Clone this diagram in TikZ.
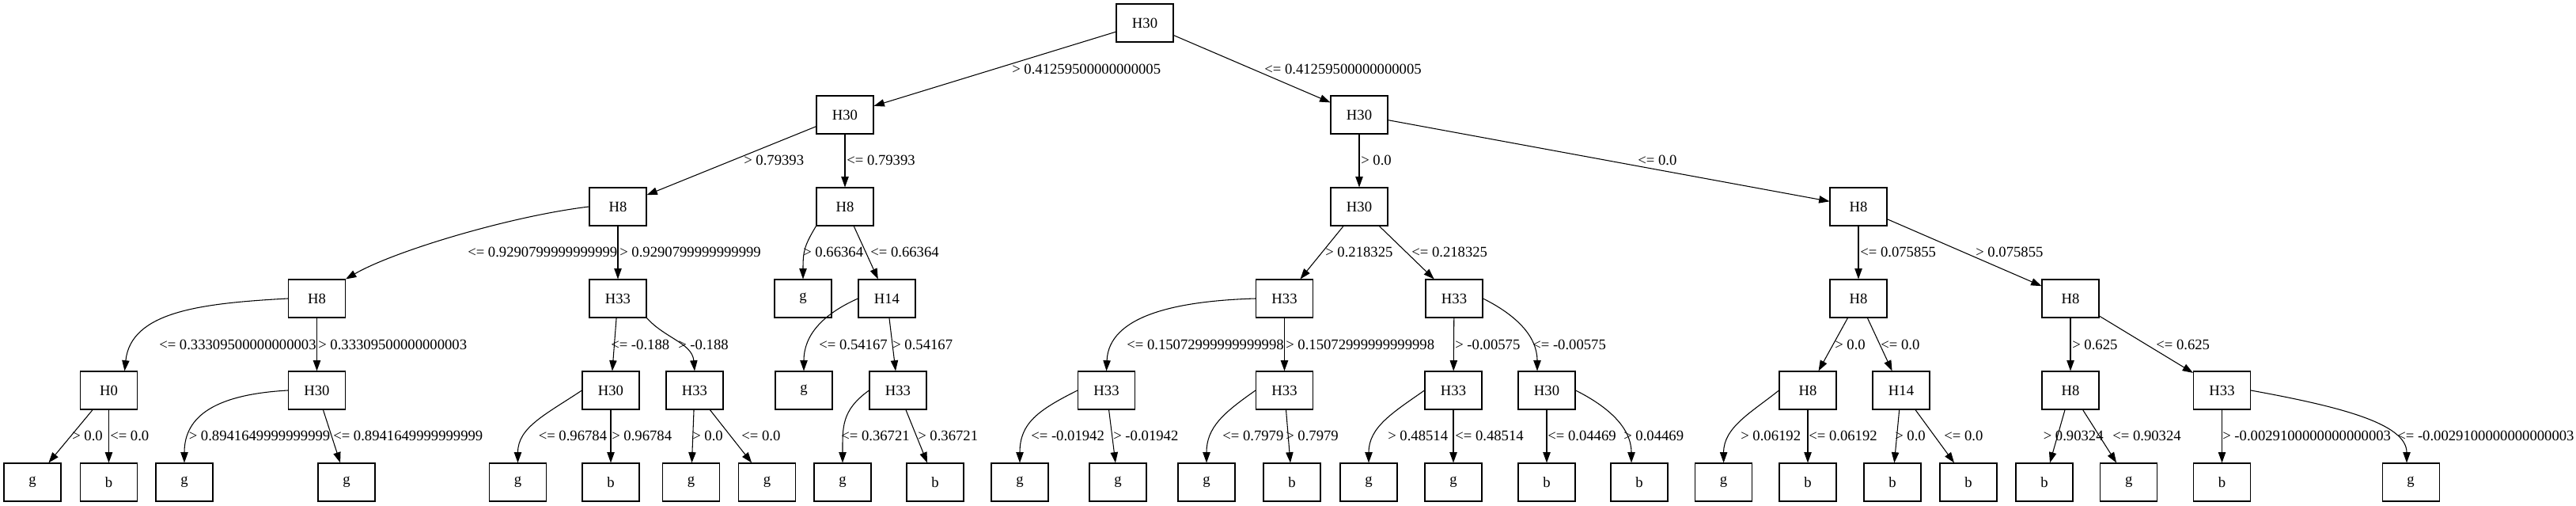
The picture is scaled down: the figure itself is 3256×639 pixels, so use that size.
\documentclass[tikz,border=0pt]{standalone}
\usepackage{fontspec}
\setmainfont{Liberation Serif}
\usetikzlibrary{arrows.meta,calc}
\begin{document}
\begin{tikzpicture}[x=0.75pt,y=-0.75pt,
  box/.style={draw, line width=0.8pt, minimum width=54pt, minimum height=36pt, inner sep=0pt, font=\fontsize{14}{16}\selectfont},
  lbl/.style={anchor=west, inner sep=0pt, font=\fontsize{14}{16}\selectfont},
  edge/.style={line width=0.8pt, -{Triangle[length=10pt,width=7pt]}}]
\useasboundingbox (0,0) rectangle (3256,639);
% row 0
\node[box] (n0) at (1447,29) {H30};
% row 1
\node[box] (n1) at (1068,145) {H30};
\node[box] (n2) at (1718,145) {H30};
% row 2
\node[box] (n3) at (781,261) {H8};
\node[box] (n4) at (1068,261) {H8};
\node[box] (n5) at (1718,261) {H30};
\node[box] (n6) at (2349,261) {H8};
% row 3
\node[box] (n7) at (400.5,377) {H8};
\node[box] (n8) at (781,377) {H33};
\node[box] (n9) at (1015,377) {g};
\node[box] (n10) at (1121,377) {H14};
\node[box] (n11) at (1623.5,377) {H33};
\node[box] (n12) at (1838,377) {H33};
\node[box] (n13) at (2349,377) {H8};
\node[box] (n14) at (2617,377) {H8};
% row 4
\node[box] (n15) at (137.5,493) {H0};
\node[box] (n16) at (400.5,493) {H30};
\node[box] (n17) at (772,493) {H30};
\node[box] (n18) at (878,493) {H33};
\node[box] (n19) at (1016,493) {g};
\node[box] (n20) at (1135,493) {H33};
\node[box] (n21) at (1398.5,493) {H33};
\node[box] (n22) at (1623.5,493) {H33};
\node[box] (n23) at (1837,493) {H33};
\node[box] (n24) at (1955,493) {H30};
\node[box] (n25) at (2285,493) {H8};
\node[box] (n26) at (2403,493) {H14};
\node[box] (n27) at (2617,493) {H8};
\node[box] (n28) at (2808.5,493) {H33};
% row 5
\node[box] (l1) at (41,609) {g};
\node[box] (l2) at (137.5,609) {b};
\node[box] (l3) at (233,609) {g};
\node[box] (l4) at (438,609) {g};
\node[box] (l5) at (654.5,609) {g};
\node[box] (l6) at (772,609) {b};
\node[box] (l7) at (873.5,609) {g};
\node[box] (l8) at (969.5,609) {g};
\node[box] (l9) at (1065,609) {g};
\node[box] (l10) at (1182,609) {b};
\node[box] (l11) at (1289,609) {g};
\node[box] (l12) at (1413,609) {g};
\node[box] (l13) at (1525,609) {g};
\node[box] (l14) at (1633,609) {b};
\node[box] (l15) at (1730,609) {g};
\node[box] (l16) at (1837,609) {g};
\node[box] (l17) at (1955,609) {b};
\node[box] (l18) at (2072,609) {b};
\node[box] (l19) at (2178.6,609) {g};
\node[box] (l20) at (2285,609) {b};
\node[box] (l21) at (2392,609) {b};
\node[box] (l22) at (2488,609) {b};
\node[box] (l23) at (2584,609) {b};
\node[box] (l24) at (2690.7,609) {g};
\node[box] (l25) at (2808.5,609) {b};
\node[box] (l26) at (3047,609) {g};
% edges
\draw[edge] (n0) -- (n1);
\draw[edge] (n0) -- (n2);
\draw[edge] (n1) -- (n3);
\draw[edge] (n1) -- (n4);
\draw[edge] (n2) -- (n5);
\draw[edge] (n2) -- (n6);
\draw[edge] (n3.west) .. controls +(-100,12) and +(60,-35) .. (n7.north east);
\draw[edge] (n3) -- (n8);
\draw[edge] (n4.south west) .. controls +(-15,25) and +(0,-35) .. (n9.north);
\draw[edge] (n4) -- (n10);
\draw[edge] (n5) -- (n11);
\draw[edge] (n5) -- (n12);
\draw[edge] (n6) -- (n13);
\draw[edge] (n6) -- (n14);
\draw[edge] (n7.west) .. controls +(-110,6) and +(8,-75) .. ($(n15.north)+(20,0)$);
\draw[edge] (n7) -- (n16);
\draw[edge] (n8) -- (n17);
\draw[edge] (n8.south east) .. controls +(22,25) and +(-3,-35) .. (n18.north);
\draw[edge] (n10.west) .. controls +(-45,20) and +(0,-45) .. (n19.north);
\draw[edge] (n10) -- (n20);
\draw[edge] (n11.west) .. controls +(-100,3) and +(3,-70) .. (n21.north);
\draw[edge] (n11) -- (n22);
\draw[edge] (n12) -- (n23);
\draw[edge] (n12.east) .. controls +(40,20) and +(0,-45) .. ($(n24.north)+(-12,0)$);
\draw[edge] (n13) -- (n25);
\draw[edge] (n13) -- (n26);
\draw[edge] (n14) -- (n27);
\draw[edge] (n14) -- (n28);
\draw[edge] (n15) -- (l1);
\draw[edge] (n15) -- (l2);
\draw[edge] (n16.west) .. controls +(-90,5) and +(0,-60) .. (l3.north);
\draw[edge] (n16) -- (l4);
\draw[edge] (n17.west) .. controls +(-45,30) and +(0,-45) .. (l5.north);
\draw[edge] (n17) -- (l6);
\draw[edge] (n18) -- (l7);
\draw[edge] (n18) -- (l8);
\draw[edge] (n20.west) .. controls +(-35,25) and +(0,-45) .. (l9.north);
\draw[edge] (n20) -- (l10);
\draw[edge] (n21.west) .. controls +(-50,25) and +(0,-50) .. (l11.north);
\draw[edge] (n21) -- (l12);
\draw[edge] (n22.west) .. controls +(-40,28) and +(0,-45) .. (l13.north);
\draw[edge] (n22) -- (l14);
\draw[edge] (n23.west) .. controls +(-40,28) and +(0,-45) .. (l15.north);
\draw[edge] (n23) -- (l16);
\draw[edge] (n24) -- (l17);
\draw[edge] (n24.east) .. controls +(40,20) and +(0,-45) .. ($(l18.north)+(-10,0)$);
\draw[edge] (n25.west) .. controls +(-35,28) and +(0,-45) .. (l19.north);
\draw[edge] (n25) -- (l20);
\draw[edge] (n26) -- (l21);
\draw[edge] (n26) -- (l22);
\draw[edge] (n27) -- (l23);
\draw[edge] (n27) -- (l24);
\draw[edge] (n28) -- (l25);
\draw[edge] (n28.east) .. controls +(110,20) and +(0,-50) .. ($(l26.north)+(-5,0)$);
% labels row 0-1
\node[lbl] (t1) at (1279,87) {> 0.41259500000000005};
\node[lbl] (t2) at (1598,87) {<= 0.41259500000000005};
% row 1-2
\node[lbl] (t3) at (940,202) {> 0.79393};
\node[lbl] (t4) at (1070,202) {<= 0.79393};
\node[lbl] (t5) at (1720,202) {> 0.0};
\node[lbl] (t6) at (2070,202) {<= 0.0};
% row 2-3
\node[lbl] (t7) at (591,318) {<= 0.9290799999999999};
\node[lbl] (t8) at (783,318) {> 0.9290799999999999};
\node[lbl] (t9) at (1015,318) {> 0.66364};
\node[lbl] (t10) at (1100,318) {<= 0.66364};
\node[lbl] (t11) at (1675,318) {> 0.218325};
\node[lbl] (t12) at (1784,318) {<= 0.218325};
\node[lbl] (t13) at (2351,318) {<= 0.075855};
\node[lbl] (t14) at (2497,318) {> 0.075855};
% row 3-4
\node[lbl] (t15) at (201,435) {<= 0.33309500000000003};
\node[lbl] (t16) at (402,435) {> 0.33309500000000003};
\node[lbl] (t17) at (772,435) {<= -0.188};
\node[lbl] (t18) at (857,435) {> -0.188};
\node[lbl] (t19) at (1035,435) {<= 0.54167};
\node[lbl] (t20) at (1128,435) {> 0.54167};
\node[lbl] (t21) at (1424,435) {<= 0.15072999999999998};
\node[lbl] (t22) at (1625,435) {> 0.15072999999999998};
\node[lbl] (t23) at (1839,435) {> -0.00575};
\node[lbl] (t24) at (1937,435) {<= -0.00575};
\node[lbl] (t25) at (2319,435) {> 0.0};
\node[lbl] (t26) at (2377,435) {<= 0.0};
\node[lbl] (t27) at (2619,435) {> 0.625};
\node[lbl] (t28) at (2725,435) {<= 0.625};
% row 4-5
\node[lbl] (t29) at (91,550) {> 0.0};
\node[lbl] (t30) at (139,550) {<= 0.0};
\node[lbl] (t31) at (238.5,550) {> 0.8941649999999999};
\node[lbl] (t32) at (421,550) {<= 0.8941649999999999};
\node[lbl] (t33) at (680.5,550) {<= 0.96784};
\node[lbl] (t34) at (773,550) {> 0.96784};
\node[lbl] (t35) at (875,550) {> 0.0};
\node[lbl] (t36) at (937,550) {<= 0.0};
\node[lbl] (t37) at (1063,550) {<= 0.36721};
\node[lbl] (t38) at (1160,550) {> 0.36721};
\node[lbl] (t39) at (1303,550) {<= -0.01942};
\node[lbl] (t40) at (1407,550) {> -0.01942};
\node[lbl] (t41) at (1545,550) {<= 0.7979};
\node[lbl] (t42) at (1625,550) {> 0.7979};
\node[lbl] (t43) at (1754,550) {> 0.48514};
\node[lbl] (t44) at (1839,550) {<= 0.48514};
\node[lbl] (t45) at (1956,550) {<= 0.04469};
\node[lbl] (t46) at (2052,550) {> 0.04469};
\node[lbl] (t47) at (2200,550) {> 0.06192};
\node[lbl] (t48) at (2286,550) {<= 0.06192};
\node[lbl] (t49) at (2395,550) {> 0.0};
\node[lbl] (t50) at (2457,550) {<= 0.0};
\node[lbl] (t51) at (2582.5,550) {> 0.90324};
\node[lbl] (t52) at (2670,550) {<= 0.90324};
\node[lbl] (t53) at (2809,550) {> -0.0029100000000000003};
\node[lbl] (t54) at (3030,550) {<= -0.0029100000000000003};
\end{tikzpicture}
\end{document}
